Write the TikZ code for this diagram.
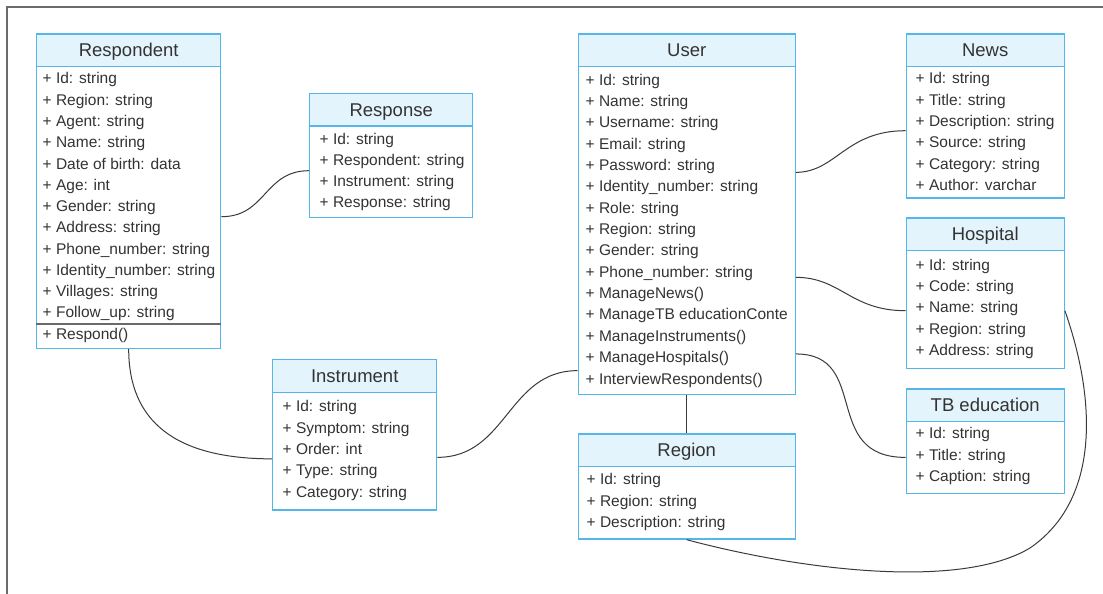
\documentclass[tikz,border=0pt]{standalone}
\usepackage{fontspec}
\setmainfont{Liberation Sans}
\usepackage{xcolor}
\definecolor{umlblue}{HTML}{55B6EA}
\definecolor{umlhead}{HTML}{E4F4FC}
\definecolor{ink}{HTML}{333333}
\definecolor{wire}{HTML}{3A3A3A}
\definecolor{framegray}{HTML}{6A6A6A}
\usepackage{tikz}
\usetikzlibrary{calc}

\begin{document}
\begin{tikzpicture}[x=1pt,y=-1pt,
  classbox/.style={draw=umlblue,line width=1.4pt,fill=white,inner sep=0pt,anchor=north west},
  classhead/.style={draw=umlblue,line width=1.4pt,fill=umlhead,inner sep=0pt,anchor=north,
    minimum height=32.5pt,text=ink,font=\fontsize{18.5}{20}\selectfont,text height=14pt,text depth=1pt},
  attr/.style={anchor=west,inner sep=0pt,text=ink,font=\fontsize{15.5}{18}\selectfont,
    text height=12.5pt,text depth=2.5pt},
  link/.style={wire,line width=1pt},
  sepline/.style={draw=framegray,line width=1.3pt}]
  \useasboundingbox (0,0) rectangle (1103,594);
  % --- Cadre de la capture ---
  \draw[framegray,line width=1.8pt] (7,594) -- (7,7) -- (1103,7);

  % --- Respondent ---
  \node[classbox,minimum width=184,minimum height=314.4] (respondent) at (36,33.3) {};
  \node[classhead,minimum width=184] (respondentHead) at (respondent.north) {Respondent};
  \foreach \t [count=\i] in {+ Id: string,+ Region: string,+ Agent: string,+ Name: string,
      + Date of birth: data,+ Age: int,+ Gender: string,+ Address: string,
      + Phone\_number: string,+ Identity\_number: string,+ Villages: string,
      + Follow\_up: string,+ Respond()}
    \node[attr] (respondent\i) at (42.5,{79+21.25*(\i-1)}) {\t};
  \draw[sepline] (respondent.west |- 0,324) -- (respondent.east |- 0,324); % methodes

  % --- Response ---
  \node[classbox,minimum width=163,minimum height=124] (response) at (309,92.7) {};
  \node[classhead,minimum width=163] (responseHead) at (response.north) {Response};
  \foreach \t [count=\i] in {+ Id: string,+ Respondent: string,+ Instrument: string,+ Response: string}
    \node[attr] (response\i) at (319.5,{139.5+21*(\i-1)}) {\t};

  % --- Instrument ---
  \node[classbox,minimum width=164,minimum height=150.3] (instrument) at (272,359) {};
  \node[classhead,minimum width=164] (instrumentHead) at (instrument.north) {Instrument};
  \foreach \t [count=\i] in {+ Id: string,+ Symptom: string,+ Order: int,+ Type: string,+ Category: string}
    \node[attr] (instrument\i) at (282.5,{406.7+21.4*(\i-1)}) {\t};

  % --- User ---
  \node[classbox,minimum width=217,minimum height=360.7] (user) at (577.5,33.3) {};
  \node[classhead,minimum width=217] (userHead) at (user.north) {User};
  \foreach \t [count=\i] in {+ Id: string,+ Name: string,+ Username: string,+ Email: string,
      + Password: string,+ Identity\_number: string,+ Role: string,+ Region: string,
      + Gender: string,+ Phone\_number: string,+ ManageNews(),+ ManageTB educationConte,
      + ManageInstruments(),+ ManageHospitals(),+ InterviewRespondents()}
    \node[attr] (user\i) at (585.5,{80+21.36*(\i-1)}) {\t};

  % --- Region ---
  \node[classbox,minimum width=217,minimum height=105] (region) at (577.5,433.3) {};
  \node[classhead,minimum width=217] (regionHead) at (region.north) {Region};
  \foreach \t [count=\i] in {+ Id: string,+ Region: string,+ Description: string}
    \node[attr] (region\i) at (586.5,{479.3+21.8*(\i-1)}) {\t};

  % --- News ---
  \node[classbox,minimum width=158,minimum height=164] (news) at (905.5,33.3) {};
  \node[classhead,minimum width=158] (newsHead) at (news.north) {News};
  \foreach \t [count=\i] in {+ Id: string,+ Title: string,+ Description: string,+ Source: string,
      + Category: string,+ Author: varchar}
    \node[attr] (news\i) at (915.5,{79+21.3*(\i-1)}) {\t};

  % --- Hospital ---
  \node[classbox,minimum width=158,minimum height=150.4] (hospital) at (905.5,217.3) {};
  \node[classhead,minimum width=158] (hospitalHead) at (hospital.north) {Hospital};
  \foreach \t [count=\i] in {+ Id: string,+ Code: string,+ Name: string,+ Region: string,+ Address: string}
    \node[attr] (hospital\i) at (915.5,{265.7+21.1*(\i-1)}) {\t};

  % --- TB education ---
  \node[classbox,minimum width=158,minimum height=104.4] (tbedu) at (905.5,388.3) {};
  \node[classhead,minimum width=158] (tbeduHead) at (tbedu.north) {TB education};
  \foreach \t [count=\i] in {+ Id: string,+ Title: string,+ Caption: string}
    \node[attr] (tbedu\i) at (915.5,{433.3+21.8*(\i-1)}) {\t};

  % --- Associations ---
  \draw[link] ([yshift=-25.5pt]respondent.east) .. controls +(45,0) and +(-45,0) .. ([yshift=-15.3pt]response.west);
  \draw[link] (respondent.south) .. controls +(0,72) and +(-97,0) .. ([yshift=-24pt]instrument.west);
  \draw[link] ([yshift=-22.5pt]instrument.east) .. controls +(70,0) and +(-70,0) .. ([yshift=-156.3pt]user.west);
  \draw[link] ([yshift=42pt]user.east) .. controls +(40,0) and +(-60,0) .. ([yshift=-14.7pt]news.west);
  \draw[link] ([yshift=-63pt]user.east) .. controls +(45,0) and +(-55,0) .. ([yshift=-17.5pt]hospital.west);
  \draw[link] ([yshift=-139.6pt]user.east) .. controls +(75,0) and +(-85,0) .. ([yshift=-16.2pt]tbedu.west);
  \draw[link] (user.south) -- (region.north);
  \coordinate (hospLoop) at (1030,548);
  \draw[link] ([yshift=-17.5pt]hospital.east) .. controls +(31.5,90) and (1100,500) .. (hospLoop)
    .. controls (960,590) and (800,570) .. (region.south);
\end{tikzpicture}
\end{document}
